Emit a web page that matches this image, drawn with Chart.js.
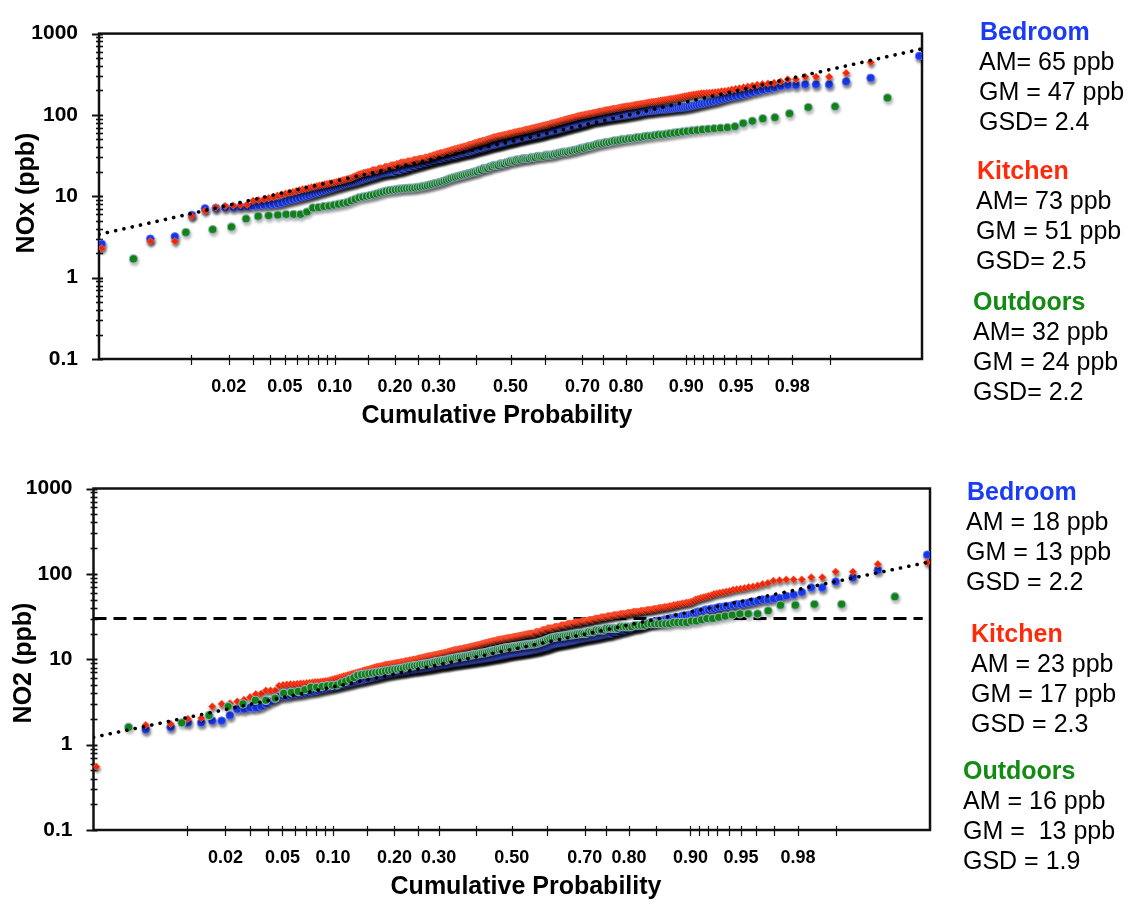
<!DOCTYPE html>
<html><head><meta charset="utf-8">
<script src="https://cdn.jsdelivr.net/npm/chart.js@4.4.1/dist/chart.umd.min.js"></script>
<style>
html,body{margin:0;padding:0;background:#fff;width:1133px;height:905px;overflow:hidden}
.wrap{position:absolute;left:0;width:1133px}
#w1{top:0;height:452px}#w2{top:452px;height:453px}
canvas{display:block}
</style></head><body>
<div id="w1" class="wrap"><canvas id="c1" width="1133" height="452"></canvas></div>
<div id="w2" class="wrap"><canvas id="c2" width="1133" height="453"></canvas></div>
<script>
// ---------- DATA (sorted concentrations, ppb; plotted at rank plotting positions) ----------
const seriesNames = ['Bedroom','Kitchen','Outdoors'];

const noxBedroom = [2.6,3.0,3.2,5.9,7.1,7.2,7.3,7.3,7.4,7.5,7.6,7.7,7.8,7.9,8.0,8.1,8.3,8.6,8.9,9.1,9.3,9.5,9.8,10.0,10.2,10.5,10.7,11.0,11.2,11.5,11.7,12.0,12.2,12.5,12.7,13.0,13.2,13.5,13.7,14.0,14.2,14.4,14.6,14.8,15.0,15.2,15.5,15.7,16.0,16.2,16.5,16.7,17.0,17.2,17.5,17.7,18.0,18.2,18.5,18.7,19.0,19.2,19.4,19.5,19.7,19.8,20,20,20,20,21,21,21,21,21,22,22,22,22,23,23,23,23,24,24,24,24,25,25,25,25,26,26,26,26,27,27,27,27,28,28,28,28,29,29,29,29,29,30,30,30,30,31,31,31,31,32,32,32,32,32,33,33,33,33,34,34,34,34,35,35,35,35,35,36,36,36,37,37,37,38,38,38,39,39,39,39,40,40,40,41,41,41,42,42,42,43,43,43,43,44,44,44,45,45,45,46,46,46,47,47,47,48,48,48,49,49,49,50,50,50,51,51,51,52,52,52,53,53,53,54,54,54,55,55,55,56,56,56,57,57,57,58,58,58,59,59,60,60,61,61,62,62,63,63,63,64,64,65,65,66,66,67,67,68,68,69,70,70,71,71,72,72,73,74,74,75,75,76,77,77,78,79,79,80,81,81,82,83,84,85,86,86,87,87,88,88,89,89,90,90,91,92,92,93,93,94,94,95,95,96,96,97,97,98,98,99,99,100,101,101,102,103,104,104,105,106,107,108,109,110,111,111,112,112,113,114,114,115,116,116,117,117,118,119,119,120,121,122,122,123,124,125,126,128,130,132,134,136,138,141,143,145,148,151,155,159,163,167,170,174,178,184,190,196,202,208,215,225,232,232,237,237,237,257,285,531];

const noxKitchen = [2.3,2.8,2.8,5.7,6.6,7.3,7.6,7.7,7.8,7.9,8.8,9.0,9.2,9.5,9.8,10.2,10.5,10.8,11.1,11.3,11.6,11.9,12.2,12.4,12.6,12.9,13.1,13.4,13.6,13.8,14.0,14.2,14.4,14.6,14.8,15.0,15.3,15.5,15.8,16.0,16.3,16.5,16.8,17.2,17.6,18.0,18.5,18.8,19.1,19.4,19.6,19.8,20,20,21,21,21,21,22,22,22,22,23,23,23,23,24,24,24,24,25,25,25,26,26,26,26,26,27,27,27,27,27,28,28,28,28,29,29,29,29,29,30,30,30,30,31,31,31,32,32,32,33,33,33,34,34,34,34,35,35,35,36,36,36,37,37,37,38,38,38,39,39,39,40,40,40,41,41,41,42,42,43,43,43,44,44,45,45,45,46,46,47,47,47,48,48,48,49,49,50,50,51,51,52,52,53,53,53,54,54,55,55,55,56,56,56,57,57,57,58,58,59,59,59,60,60,61,61,61,62,62,63,63,63,64,64,65,65,66,66,66,67,67,68,68,69,69,70,70,71,71,72,72,73,73,74,74,75,75,76,76,77,78,79,79,80,80,81,82,82,83,84,84,85,86,87,88,88,89,90,90,91,92,93,93,94,95,96,97,97,98,99,99,100,101,101,102,103,103,104,105,106,106,107,108,109,110,110,111,112,113,114,115,115,116,117,118,119,119,120,121,122,123,124,125,126,127,128,128,129,130,131,132,133,134,135,136,137,138,139,141,142,143,144,145,146,147,148,150,151,152,154,155,157,158,159,161,163,165,167,169,171,174,176,178,180,182,184,185,186,187,188,190,192,195,197,200,205,209,213,218,224,229,235,240,244,248,258,274,274,294,294,294,328,443,1500];

const noxOutdoors = [1.7,3.6,3.9,4.2,5.3,5.7,5.8,5.9,6.0,6.0,6.0,6.4,7.2,7.3,7.5,7.6,7.8,8.0,8.2,8.4,8.8,9.2,9.6,9.8,10.0,10.2,10.4,10.7,11.0,11.3,11.6,11.8,11.9,12.0,12.2,12.3,12.4,12.5,12.6,12.6,12.7,12.9,13.0,13.2,13.3,13.5,13.8,14.0,14.3,14.5,14.8,15.0,15.4,15.8,16.2,16.6,16.9,17.2,17.5,17.8,18.1,18.4,18.7,19.0,19.3,19.7,20,20,21,21,22,22,22,23,23,24,24,24,25,25,25,26,26,27,27,27,28,28,28,29,29,29,29,30,30,30,31,31,31,31,32,32,32,32,33,33,34,34,35,35,35,36,36,37,37,38,39,39,40,41,41,42,43,44,44,45,46,46,47,48,48,49,50,50,51,51,52,53,53,54,55,55,56,57,57,58,59,60,61,62,63,64,65,66,67,68,69,70,72,79,84,90,93,104,124,127,162];

const no2Bedroom = [0.05,1.5,1.6,1.8,1.8,1.9,1.9,2.2,2.6,2.6,2.7,2.7,2.8,3.0,3.2,3.4,3.6,3.7,3.7,3.8,3.9,3.9,4.0,4.0,4.1,4.2,4.2,4.3,4.3,4.4,4.5,4.5,4.6,4.7,4.7,4.8,4.9,4.9,5.0,5.1,5.1,5.2,5.3,5.3,5.4,5.5,5.6,5.6,5.7,5.7,5.8,5.9,5.9,6.0,6.1,6.1,6.2,6.3,6.3,6.4,6.5,6.5,6.6,6.7,6.7,6.8,6.8,6.9,6.9,7.0,7.0,7.1,7.1,7.2,7.2,7.2,7.3,7.3,7.4,7.4,7.5,7.5,7.6,7.6,7.6,7.7,7.7,7.7,7.8,7.8,7.8,7.9,7.9,8.0,8.0,8.0,8.1,8.1,8.2,8.2,8.3,8.3,8.4,8.4,8.5,8.5,8.6,8.6,8.6,8.7,8.7,8.7,8.8,8.8,8.9,8.9,9.0,9.0,9.1,9.1,9.1,9.2,9.2,9.2,9.3,9.3,9.4,9.4,9.4,9.5,9.5,9.6,9.6,9.6,9.7,9.7,9.8,9.8,9.8,9.9,9.9,10.0,10.0,10.0,10.1,10.1,10.2,10.2,10.3,10.3,10.4,10.4,10.5,10.5,10.6,10.6,10.7,10.7,10.8,10.8,10.9,10.9,11.0,11.0,11.1,11.2,11.2,11.3,11.4,11.4,11.5,11.6,11.6,11.7,11.7,11.8,11.8,11.9,11.9,12.0,12.0,12.1,12.1,12.2,12.2,12.3,12.3,12.4,12.4,12.5,12.5,12.6,12.7,12.7,12.8,12.9,12.9,13.0,13.1,13.1,13.2,13.3,13.4,13.5,13.6,13.7,13.8,13.9,14.0,14.1,14.3,14.4,14.6,14.7,14.9,15.0,15.1,15.2,15.3,15.4,15.5,15.5,15.6,15.7,15.8,15.8,15.9,16.0,16.1,16.2,16.3,16.4,16.5,16.6,16.7,16.8,16.9,17.0,17.2,17.3,17.4,17.5,17.6,17.7,17.8,17.9,18.0,18.1,18.2,18.3,18.4,18.5,18.6,18.7,18.9,19.0,19.1,19.2,19.4,19.5,19.7,19.8,20,20,20,20,21,21,21,21,21,22,22,22,22,22,23,23,23,23,24,24,24,24,24,25,25,25,26,26,26,27,27,27,27,28,28,28,28,29,29,29,30,30,30,31,31,31,32,32,32,33,33,34,35,36,36,37,38,38,39,39,40,41,41,42,42,43,44,44,45,46,47,48,50,50,51,52,55,57,61,69,69,81,90,110,167];

const no2Kitchen = [0.55,1.7,1.75,2.0,2.05,2.8,3.0,3.05,3.2,3.35,3.6,3.9,3.95,4.3,4.3,4.3,4.9,5.0,5.05,5.1,5.1,5.15,5.2,5.2,5.25,5.3,5.35,5.4,5.4,5.45,5.5,5.55,5.6,5.7,5.8,5.9,6.0,6.1,6.2,6.3,6.4,6.5,6.6,6.7,6.8,6.9,7.0,7.1,7.2,7.3,7.4,7.5,7.6,7.7,7.8,7.9,8.0,8.1,8.2,8.2,8.3,8.4,8.5,8.6,8.6,8.7,8.7,8.8,8.9,8.9,9.0,9.1,9.1,9.2,9.3,9.3,9.4,9.5,9.5,9.6,9.7,9.7,9.8,9.9,9.9,10.0,10.1,10.2,10.3,10.3,10.4,10.5,10.6,10.7,10.8,10.8,10.9,11.0,11.0,11.1,11.2,11.3,11.3,11.4,11.5,11.6,11.7,11.7,11.8,11.9,12.0,12.1,12.2,12.3,12.4,12.5,12.6,12.7,12.8,12.9,12.9,13.0,13.1,13.2,13.2,13.3,13.4,13.5,13.5,13.6,13.7,13.8,13.9,14.0,14.1,14.2,14.3,14.4,14.5,14.6,14.7,14.8,14.9,15.0,15.1,15.3,15.4,15.5,15.6,15.7,15.8,15.9,16.0,16.1,16.2,16.3,16.4,16.5,16.7,16.8,16.9,17.0,17.0,17.1,17.2,17.3,17.4,17.5,17.6,17.7,17.7,17.8,17.9,18.0,18.1,18.2,18.3,18.4,18.5,18.6,18.7,18.8,18.9,19.0,19.1,19.2,19.4,19.5,19.6,19.7,19.8,19.9,20,20,20,20,20,21,21,21,21,21,21,22,22,22,22,22,23,23,23,23,23,23,23,24,24,24,24,24,24,25,25,25,25,25,25,26,26,26,26,26,26,27,27,27,27,27,27,27,28,28,28,28,28,28,29,29,29,29,29,30,30,30,30,30,31,31,31,31,31,32,32,32,32,32,33,33,33,33,33,34,34,34,34,34,35,35,35,35,36,36,36,36,36,37,37,37,37,38,38,38,38,39,39,39,40,40,40,41,41,41,42,42,43,43,44,44,45,45,46,46,47,48,50,51,52,53,54,55,56,58,59,60,61,62,63,65,66,67,68,70,71,73,76,78,83,84,86,86,86,91,91,106,106,130,136];

const no2Outdoors = [1.6,1.8,2.2,2.8,3.0,3.3,3.3,3.5,4.0,4.1,4.2,4.4,4.7,4.7,4.8,4.9,4.95,5.0,5.3,5.5,5.8,6.1,6.5,6.6,6.7,6.8,6.9,7.0,7.1,7.2,7.3,7.4,7.5,7.6,7.7,7.8,7.9,8.1,8.2,8.3,8.4,8.5,8.6,8.7,8.8,8.9,9.0,9.1,9.3,9.4,9.5,9.6,9.7,9.8,10.0,10.1,10.2,10.4,10.5,10.6,10.7,10.8,10.9,11.0,11.2,11.3,11.4,11.5,11.7,11.8,11.9,12.0,12.2,12.4,12.5,12.7,12.9,13.0,13.2,13.4,13.6,13.7,13.8,13.9,14.0,14.1,14.2,14.4,14.5,14.6,14.7,14.8,14.9,15.0,15.1,15.3,15.6,15.9,16.2,16.6,17.0,17.4,17.8,18.0,18.2,18.4,18.5,18.7,18.8,19.0,19.2,19.3,19.5,19.7,19.8,20,20,20,21,21,21,22,22,22,22,23,23,23,23,23,24,24,24,24,24,25,25,25,25,26,26,26,26,26,26,26,27,27,27,27,28,28,29,30,30,31,32,33,34,34,34,37,43,43,44,44,54];

// summary statistics shown at the right of each panel
const noxGM = [47, 51, 24];
const noxGSD = [2.4, 2.5, 2.2];
const noxStatLines = [['AM= 65 ppb','GM = 47 ppb','GSD= 2.4'],['AM= 73 ppb','GM = 51 ppb','GSD= 2.5'],['AM= 32 ppb','GM = 24 ppb','GSD= 2.2']];
const no2GM = [13, 17, 13];
const no2GSD = [2.2, 2.3, 1.9];
const no2StatLines = [['AM = 18 ppb','GM = 13 ppb','GSD = 2.2'],['AM = 23 ppb','GM = 17 ppb','GSD = 2.3'],['AM = 16 ppb','GM =  13 ppb','GSD = 1.9']];
const no2Limit = 30;                 // dashed reference level, ppb
const no2LimitSpan = [0.00135, 0.9984];

// axis ticks
const probTicks = [0.01,0.02,0.03,0.04,0.05,0.06,0.07,0.08,0.09,0.10,0.15,0.20,0.25,0.30,0.40,0.50,0.60,0.70,0.75,0.80,0.85,0.90,0.91,0.92,0.93,0.94,0.95,0.96,0.97,0.98,0.99];
const probLabels = [0.02,0.05,0.10,0.20,0.30,0.50,0.70,0.80,0.90,0.95,0.98];
const logMajor = [0.1,1,10,100,1000];
const logMinorMult = [2,3,4,5,6,7,8,9];

// ---------- helpers ----------
function qnorm(p){
  const a=[-3.969683028665376e+01,2.209460984245205e+02,-2.759285104469687e+02,1.383577518672690e+02,-3.066479806614716e+01,2.506628277459239e+00];
  const b=[-5.447609879822406e+01,1.615858368580409e+02,-1.556989798598866e+02,6.680131188771972e+01,-1.328068155288572e+01];
  const c=[-7.784894002430293e-03,-3.223964580411365e-01,-2.400758277161838e+00,-2.549732539343734e+00,4.374664141464968e+00,2.938163982698783e+00];
  const d=[7.784695709041462e-03,3.224671290700398e-01,2.445134137142996e+00,3.754408661907416e+00];
  const pl=0.02425; let q,r;
  if(p<pl){q=Math.sqrt(-2*Math.log(p));return (((((c[0]*q+c[1])*q+c[2])*q+c[3])*q+c[4])*q+c[5])/((((d[0]*q+d[1])*q+d[2])*q+d[3])*q+1);}
  if(p>1-pl){q=Math.sqrt(-2*Math.log(1-p));return -(((((c[0]*q+c[1])*q+c[2])*q+c[3])*q+c[4])*q+c[5])/((((d[0]*q+d[1])*q+d[2])*q+d[3])*q+1);}
  q=p-0.5;r=q*q;return (((((a[0]*r+a[1])*r+a[2])*r+a[3])*r+a[4])*r+a[5])*q/(((((b[0]*r+b[1])*r+b[2])*r+b[3])*r+b[4])*r+1);
}
const toPoints = vals => vals.map((v,i)=>({x:qnorm((i+0.5)/vals.length), y:v}));
const yTickValues = [];
logMajor.forEach((m,k)=>{ yTickValues.push(m); if(k<logMajor.length-1) logMinorMult.forEach(f=>yTickValues.push(+(m*f).toPrecision(3))); });

const COL = {Bedroom:'#1a3cf6', Kitchen:'#ff2a0a', Outdoors:'#138a13'};

// ---------- plugin: frame, ticks, shadows, titles, stats ----------
const decor = {
  id:'decor',
  beforeDatasetsDraw(chart, args, o){
    const ctx=chart.ctx, a=chart.chartArea, xs=chart.scales.x, ys=chart.scales.y;
    ctx.save();
    ctx.strokeStyle='#111';
    ctx.lineWidth=1.2;
    xs.ticks.forEach(t=>{const px=Math.round(xs.getPixelForValue(t.value))+0.5;ctx.beginPath();ctx.moveTo(px,a.bottom-4);ctx.lineTo(px,a.bottom+6);ctx.stroke();});
    ys.ticks.forEach(t=>{
      const py=Math.round(ys.getPixelForValue(t.value))+0.5;
      const major=Math.abs(Math.log10(t.value)-Math.round(Math.log10(t.value)))<1e-9;
      ctx.lineWidth=major?2:1.6;
      ctx.beginPath();ctx.moveTo(a.left-(major?7:3),py);ctx.lineTo(a.left+4,py);ctx.stroke();
    });
    ctx.lineWidth=2.5;
    ctx.strokeRect(a.left,a.top,a.right-a.left,a.bottom-a.top);
    ctx.restore();
  },
  beforeDatasetDraw(chart,args){
    const ds=chart.data.datasets[args.index];
    if(ds.shadow){const c=chart.ctx;c.save();c.shadowColor=ds.shadow;c.shadowBlur=3;c.shadowOffsetX=1;c.shadowOffsetY=2.5;}
  },
  afterDatasetDraw(chart,args){
    const ds=chart.data.datasets[args.index];
    if(ds.shadow) chart.ctx.restore();
  },
  afterDraw(chart,args,o){
    const ctx=chart.ctx;
    ctx.save();
    ctx.fillStyle='#000';
    ctx.font='bold 25px "Liberation Sans", Arial, sans-serif';
    ctx.textAlign='center';ctx.textBaseline='alphabetic';
    ctx.fillText(o.xTitle,o.xTitlePos[0],o.xTitlePos[1]);
    ctx.save();ctx.translate(o.yTitlePos[0],o.yTitlePos[1]);ctx.rotate(-Math.PI/2);
    ctx.textBaseline='middle';ctx.fillText(o.yTitle,0,0);ctx.restore();
    ctx.textAlign='left';ctx.textBaseline='middle';
    o.blocks.forEach((b,i)=>{
      ctx.font='bold 25px "Liberation Sans", Arial, sans-serif';
      ctx.fillStyle=COL[seriesNames[i]];
      ctx.fillText(seriesNames[i],b.x,b.y);
      ctx.font='25px "Liberation Sans", Arial, sans-serif';
      ctx.fillStyle='#000';
      o.lines[i].forEach((s,k)=>ctx.fillText(s,b.lx,b.y+30*(k+1)));
    });
    ctx.restore();
  }
};

function makeChart(id, vals, gm, gsd, pad, deco, limit){
  const ds=[];
  ds.push({label:'fit', data:[{x:-3,y:gm[0]/Math.pow(gsd[0],3)},{x:3,y:gm[0]*Math.pow(gsd[0],3)}], showLine:true, borderColor:'#000', borderWidth:3.6, borderDash:[0.1,8.4], borderCapStyle:'round', pointRadius:0, fill:false});
  ds.push({label:'Outdoors', data:toPoints(vals[2]), pointStyle:'circle', pointRadius:4.1, backgroundColor:COL.Outdoors, borderColor:'rgba(150,178,200,0.95)', borderWidth:1.1, shadow:'rgba(0,0,0,0.25)'});
  ds.push({label:'Kitchen', data:toPoints(vals[1]), pointStyle:'rectRot', pointRadius:3.8, backgroundColor:COL.Kitchen, borderColor:'rgba(255,120,90,0.9)', borderWidth:0.6, shadow:'rgba(0,0,0,0.55)'});
  ds.push({label:'Bedroom', data:toPoints(vals[0]), pointStyle:'circle', pointRadius:4, backgroundColor:COL.Bedroom, borderColor:'rgba(110,130,255,0.9)', borderWidth:0.8, shadow:'rgba(0,0,0,0.5)'});
  if(limit){
    ds.push({label:'limit', data:[{x:qnorm(limit.span[0]),y:limit.value},{x:qnorm(limit.span[1]),y:limit.value}], showLine:true, borderColor:'#000', borderWidth:3, borderDash:[13,7], pointRadius:0, fill:false});
  }
  return new Chart(document.getElementById(id),{
    type:'scatter',
    data:{datasets:ds},
    options:{
      responsive:false, animation:false, devicePixelRatio:1,
      layout:{padding:pad},
      plugins:{legend:{display:false}, tooltip:{enabled:false}, decor:deco},
      scales:{
        x:{type:'linear', min:-3, max:3,
           grid:{display:false, drawTicks:false}, border:{display:false},
           afterBuildTicks:s=>{s.ticks=probTicks.map(p=>({value:qnorm(p)}));},
           afterFit:s=>{s.height=60;},
           ticks:{autoSkip:false, maxRotation:0, padding:17, color:'#000',
             font:{family:'"Liberation Sans", Arial, sans-serif', size:18, weight:'bold'},
             callback:(v,i)=>{const p=probTicks[i];return probLabels.some(q=>Math.abs(q-p)<1e-9)?p.toFixed(2):'';}}},
        y:{type:'logarithmic', min:0.1, max:1000,
           grid:{display:false, drawTicks:false}, border:{display:false},
           afterBuildTicks:s=>{s.ticks=yTickValues.map(v=>({value:v}));},
           afterFit:s=>{s.width=85;},
           ticks:{autoSkip:false, padding:21, color:'#000',
             font:{family:'"Liberation Sans", Arial, sans-serif', size:21, weight:'bold'},
             callback:(v)=>logMajor.includes(v)?String(v):''}}
      }
    },
    plugins:[decor]
  });
}

makeChart('c1', [noxBedroom,noxKitchen,noxOutdoors], noxGM, noxGSD,
  {left:14, right:211, top:19, bottom:33},
  {xTitle:'Cumulative Probability', xTitlePos:[497,423], yTitle:'NOx (ppb)', yTitlePos:[27,193],
   lines:noxStatLines,
   blocks:[{x:980,lx:979,y:33},{x:977,lx:976,y:172},{x:973,lx:973,y:303}]});

makeChart('c2', [no2Bedroom,no2Kitchen,no2Outdoors], no2GM, no2GSD,
  {left:8.5, right:203, top:36.5, bottom:15},
  {xTitle:'Cumulative Probability', xTitlePos:[526,442], yTitle:'NO2 (ppb)', yTitlePos:[24,211],
   lines:no2StatLines,
   blocks:[{x:967,lx:966,y:41},{x:971,lx:971,y:183},{x:963,lx:963,y:320}]},
  {value:no2Limit, span:no2LimitSpan});
</script>
</body></html>
